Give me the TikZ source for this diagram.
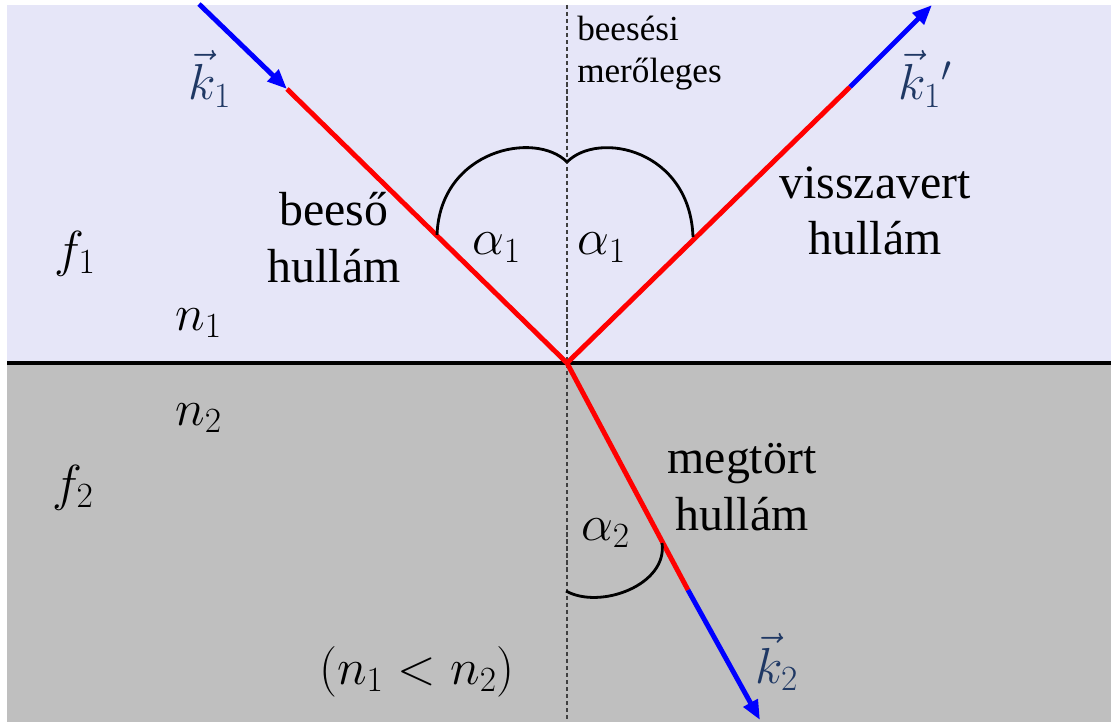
\documentclass[tikz,border=0pt]{standalone}
\usepackage{fix-cm}
\usepackage{amsmath}
\usepackage{fontspec}
\setmainfont{Liberation Serif}
\usetikzlibrary{arrows.meta}
\definecolor{bgtop}{RGB}{230,230,248}
\definecolor{bgbot}{RGB}{191,191,191}
\definecolor{kblue}{RGB}{31,56,100}

\begin{document}
\begin{tikzpicture}[
    x=0.025cm, y=-0.025cm,
    ray/.style={line width=3.5pt, red},
    kray/.style={line width=3.5pt, blue, -{Triangle[length=14pt,width=11pt]}},
    anglearc/.style={line width=2pt, black},
    lbl/.style={font=\fontsize{34}{40.5}\selectfont, align=center, inner sep=0pt},
    sym/.style={font=\fontsize{36}{40}\selectfont, inner sep=0pt},
    kvec/.style={sym, text=kblue}
]
  \useasboundingbox (0,0) rectangle (1111,722);

  % Media
  \fill[bgtop] (7,5) rectangle (1111,363);
  \fill[bgbot] (7,363) rectangle (1111,722);
  \draw[line width=2.2pt] (7,363) -- (1111,363);
  \draw[line width=1.1pt, black!75, dash pattern=on 3pt off 2pt] (567,5) -- (567,722);

  % Points on the rays
  \coordinate (O) at (567,363);
  \coordinate (inStart) at (200,5);
  \coordinate (inTip) at (287,89);
  \coordinate (reTip) at (932,5);
  \coordinate (reBlue) at (850,87);
  \coordinate (trBlue) at (688,590);
  \coordinate (trTip) at (760,720);

  % Rays
  \draw[ray] (inTip) -- (O);
  \draw[kray, shorten <=-1pt] (inStart) -- (inTip);
  \draw[ray] (O) -- (reBlue);
  \draw[kray] (reBlue) -- (reTip);
  \draw[ray] (O) -- (trBlue);
  \draw[kray] (trBlue) -- (trTip);

  % Angle arcs
  \coordinate (aL) at (437,235);
  \coordinate (aR) at (693,237);
  \coordinate (aTop) at (567,162);
  \draw[anglearc] (aL) .. controls (440,150) and (535,130) .. (aTop);
  \draw[anglearc] (aR) .. controls (690,150) and (599,130) .. (aTop);
  \coordinate (bL) at (566,591);
  \coordinate (bR) at (662,543);
  \draw[anglearc] (bL) .. controls (600,610) and (668,585) .. (bR);

  % Labels
  \node[kvec, anchor=base west] (k1) at (188,100) {$\vec{k}_1$};
  \node[kvec, anchor=base west] (k1r) at (898,100) {$\vec{k}_1{}'$};
  \node[kvec, anchor=base west] (k2) at (755,683) {$\vec{k}_2$};
  \node[lbl, anchor=base] (incl) at (334,282) {beeső\\hullám};
  \node[lbl, anchor=base] (refl) at (875,255) {visszavert\\hullám};
  \node[lbl, anchor=base] (trl) at (742,530) {megtört\\hullám};
  \node[font=\fontsize{25}{30.5}\selectfont, align=left, inner sep=0pt, anchor=base west] (norm) at (577,83) {beesési\\merőleges};
  \node[sym, anchor=base west] (f1) at (54,266) {$f_1$};
  \node[sym, anchor=base west] (n1) at (175,330) {$n_1$};
  \node[sym, anchor=base west] (n2) at (175,425) {$n_2$};
  \node[sym, anchor=base west] (f2) at (52,500) {$f_2$};
  \node[sym, anchor=base] (cmp) at (417,684) {$(n_1<n_2)$};
  \node[sym, anchor=base west] (a1l) at (472,255) {$\alpha_1$};
  \node[sym, anchor=base west] (a1r) at (577,255) {$\alpha_1$};
  \node[sym, anchor=base west] (a2) at (581,540) {$\alpha_2$};
\end{tikzpicture}
\end{document}
